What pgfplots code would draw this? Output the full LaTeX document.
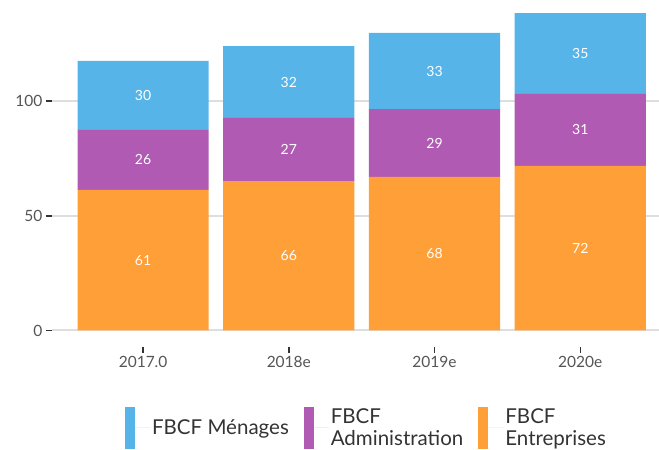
\documentclass[border=0pt]{standalone}
\usepackage{pgfplots}
\pgfplotsset{compat=1.18}
\usepackage{pgfplotstable}
\usepackage{fontspec}
\setmainfont{Lato}

\definecolor{cM}{HTML}{56B4E9}
\definecolor{cA}{HTML}{B15AB3}
\definecolor{cE}{HTML}{FF9F38}
\definecolor{gridc}{HTML}{DEDEDE}
\definecolor{tickc}{HTML}{333333}
\definecolor{labc}{HTML}{555555}

\pgfplotstableread{
x E El A Al M Ml
0 61.3 61 26.2 26 30.1 30
1 65.2 66 27.5 27 31.4 32
2 67.0 68 29.6 29 33.2 33
3 71.8 72 31.4 31 35.3 35
}\data

\pgfplotsset{
  myleg/.style={legend image code/.code={\fill[##1,draw=none] (0pt,-21pt) rectangle (10pt,21pt); \path (0pt,0pt) -- (25pt,0pt);}},
  barlab/.style={nodes near coords, point meta=explicit symbolic,
    every node near coord/.append style={anchor=center, text=white,
      font=\fontsize{14}{14}\selectfont}},
}

\begin{document}
\begin{tikzpicture}
\begin{axis}[name=ax, scale only axis, width=607pt, height=341.5pt,
  ybar stacked, bar width=0.9,
  xmin=-0.625, xmax=3.54, ymin=-7, ymax=142,
  axis line style={draw=none},
  xtick={0,1,2,3}, xticklabels={2017.0,2018e,2019e,2020e},
  ytick={0,50,100},
  xtick pos=lower, ytick pos=left,
  ymajorgrids, grid style={gridc, line width=2pt},
  tick align=outside, major tick length=6pt,
  tick style={tickc, line width=1.6pt},
  ticklabel style={font=\fontsize{15.5}{15.5}\selectfont, text=labc},
  /pgf/number format/assume math mode=true,
  legend columns=3, reverse legend,
  legend style={at={(0.5,0)}, anchor=north, xshift=11pt, yshift=-58pt,
    draw=none, fill=none, font=\fontsize{20.5}{21.5}\selectfont, text=black!80,
    cells={align=left, anchor=west},
    /tikz/every even column/.append style={column sep=13pt}},
]
\addplot[fill=cE, draw=none, myleg, barlab] table[x=x, y=E, meta=El] {\data};
\addlegendentry{FBCF\\Entreprises}
\addplot[fill=cA, draw=none, myleg, barlab] table[x=x, y=A, meta=Al] {\data};
\addlegendentry{FBCF\\Administration}
\addplot[fill=cM, draw=none, myleg, barlab] table[x=x, y=M, meta=Ml] {\data};
\addlegendentry{FBCF Ménages}
\end{axis}
\pgfresetboundingbox
\path ([xshift=-52pt,yshift=-103.5pt]ax.south west) rectangle ([yshift=5pt]ax.north east);
\end{tikzpicture}
\end{document}
